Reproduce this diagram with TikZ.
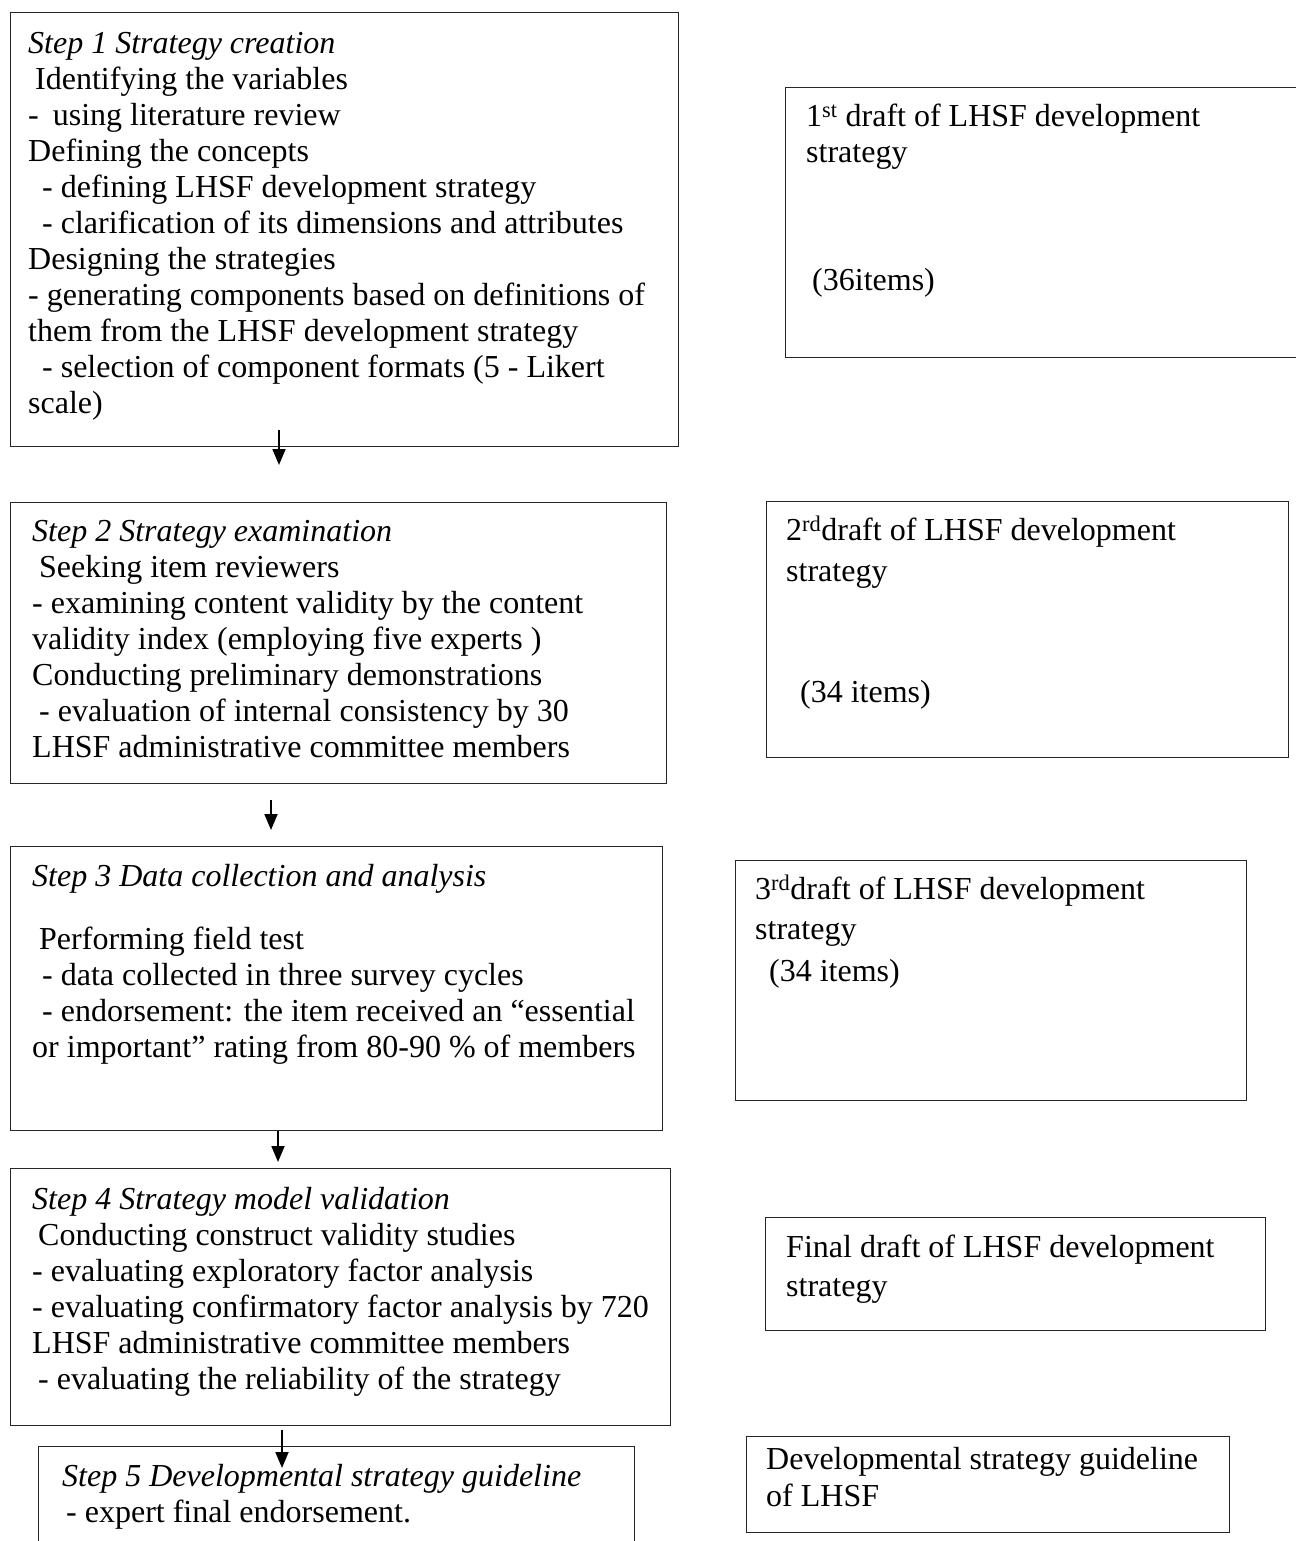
\documentclass[tikz,border=0pt]{standalone}
\usepackage{fontspec}
\setmainfont{Liberation Serif}
\usetikzlibrary{arrows.meta}
\newcommand{\ind}[1]{\hspace*{#1pt}}
\begin{document}
\begin{tikzpicture}[x=1pt,y=-1pt,
  box/.style={draw=black!85, line width=1.2pt, anchor=north west, inner sep=0pt},
  txt/.style={anchor=north west, inner sep=0pt, align=left, font=\fontsize{32}{36}\selectfont},
  arr/.style={line width=1.8pt, -{Triangle[length=16pt,width=13pt]}}]
\useasboundingbox (0,0) rectangle (1295,1541);

% left boxes
\node[box, minimum width=668pt, minimum height=434pt] (s1) at (10,12) {};
\node[box, minimum width=656pt, minimum height=281pt] (s2) at (10,502) {};
\node[box, minimum width=652pt, minimum height=284pt] (s3) at (10,846) {};
\node[box, minimum width=660pt, minimum height=257pt] (s4) at (10,1168) {};
\node[box, minimum width=596pt, minimum height=140pt] (s5) at (38,1446) {};

% right boxes
\node[box, minimum width=540pt, minimum height=270pt] (d1) at (785,87) {};
\node[box, minimum width=522pt, minimum height=256pt] (d2) at (766,501) {};
\node[box, minimum width=511pt, minimum height=240pt] (d3) at (735,860) {};
\node[box, minimum width=500pt, minimum height=113pt] (d4) at (765,1217) {};
\node[box, minimum width=483pt, minimum height=96pt] (d5) at (746,1436) {};

% left texts
\node[txt] (t1) at (28,27.8) {\strut\textit{Step 1 Strategy creation}\\
\ind{7}Identifying the variables\\
-\ind{14}using literature review\\
Defining the concepts\\
\ind{14}- defining LHSF development strategy\\
\ind{14}- clarification of its dimensions and attributes\\
Designing the strategies\\
- generating components based on definitions of\\
them from the LHSF development strategy\\
\ind{14}- selection of component formats (5 - Likert\\
scale)};

\node[txt] (t2) at (32,515.8) {\strut\textit{Step 2 Strategy examination}\\
\ind{7}Seeking item reviewers\\
- examining content validity by the content\\
validity index (employing five experts )\\
Conducting preliminary demonstrations\\
\ind{7}- evaluation of internal consistency by 30\\
LHSF administrative committee members};

\node[txt] (t3) at (32,860.8) {\strut\textit{Step 3 Data collection and analysis}\\[27pt]
\ind{7}Performing field test\\
\ind{10}- data collected in three survey cycles\\
\ind{10}- endorsement: the item received an ``essential\\
or important'' rating from 80-90 \% of members};

\node[txt] (t4) at (32,1183.8) {\strut\textit{Step 4 Strategy model validation}\\
\ind{6}Conducting construct validity studies\\
- evaluating exploratory factor analysis\\
- evaluating confirmatory factor analysis by 720\\
LHSF administrative committee members\\
\ind{6}- evaluating the reliability of the strategy};

\node[txt] (t5) at (62,1460.8) {\strut\textit{Step 5 Developmental strategy guideline}\\
\ind{4}- expert final endorsement.};

% right texts
\node[txt] (r1) at (806,100.8) {\strut 1\textsuperscript{st} draft of LHSF development\\
strategy\\[92pt]
\ind{6}(36items)};

\node[txt] (r2) at (786,514.8) {\strut 2\textsuperscript{rd}draft of LHSF development\\[5pt]
strategy\\[85pt]
\ind{14}(34 items)};

\node[txt] (r3) at (755,873.8) {\strut 3\textsuperscript{rd}draft of LHSF development\\[4pt]
strategy\\[6pt]
\ind{14}(34 items)};

\node[txt] (r4) at (786,1231.8) {\strut Final draft of LHSF development\\[3pt]
strategy};

\node[txt] (r5) at (766,1443.8) {\strut Developmental strategy guideline\\[1pt]
of LHSF};

% arrows
\coordinate (a1s) at (279,430); \coordinate (a1e) at (279,465);
\coordinate (a2s) at (271,800); \coordinate (a2e) at (271,830);
\coordinate (a3s) at (278,1131); \coordinate (a3e) at (278,1162);
\coordinate (a4s) at (282,1430); \coordinate (a4e) at (282,1468);
\draw[arr] (a1s) -- (a1e);
\draw[arr] (a2s) -- (a2e);
\draw[arr] (a3s) -- (a3e);
\draw[arr] (a4s) -- (a4e);
\end{tikzpicture}
\end{document}
